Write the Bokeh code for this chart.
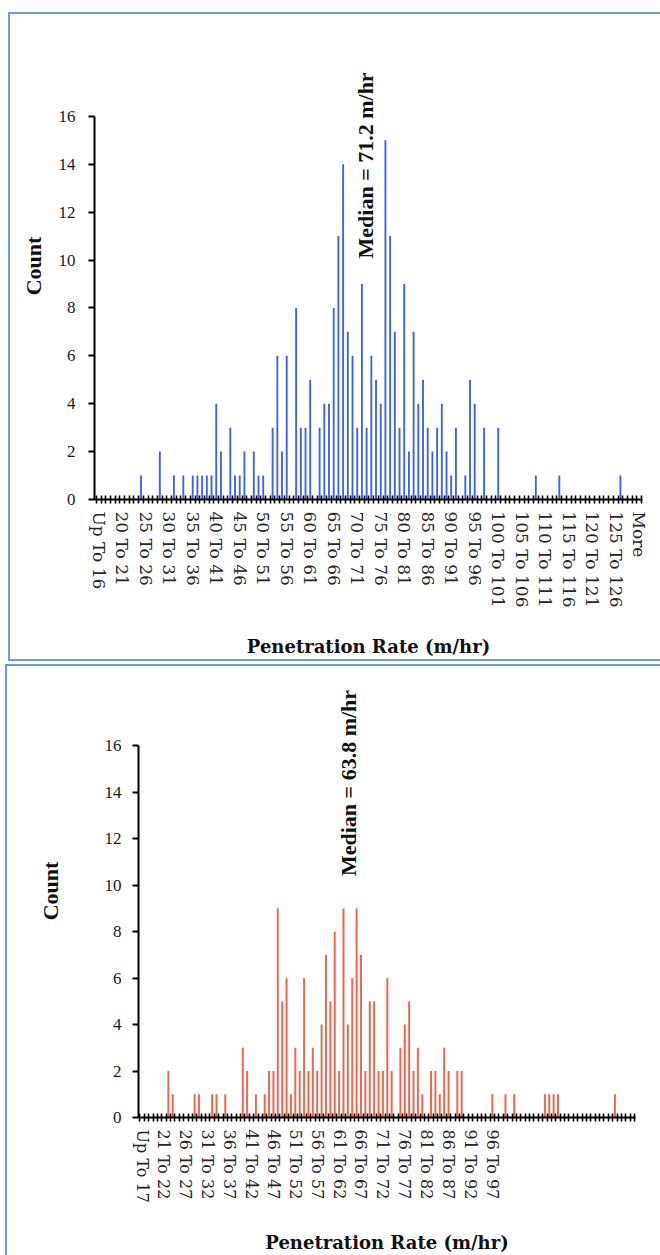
import math
from bokeh.plotting import figure
from bokeh.models import Range1d, FixedTicker, Label, ColumnDataSource
from bokeh.embed import file_html
from bokeh.resources import INLINE

# ---------------- data ----------------
top_categories = ["Up To 16"] + [f"{n} To {n + 1}" for n in range(16, 130)] + ["More"]
top_counts = [
    0, 0, 0, 0, 0, 0, 0, 0, 0, 1,
    0, 0, 0, 2, 0, 0, 1, 0, 1, 0,
    1, 1, 1, 1, 1, 4, 2, 0, 3, 1,
    1, 2, 0, 2, 1, 1, 0, 3, 6, 2,
    6, 0, 8, 3, 3, 5, 0, 3, 4, 4,
    8, 11, 14, 7, 6, 3, 9, 3, 6, 5,
    4, 15, 11, 7, 3, 9, 2, 7, 4, 5,
    3, 2, 3, 4, 2, 1, 3, 0, 1, 5,
    4, 0, 3, 0, 0, 3, 0, 0, 0, 0,
    0, 0, 0, 1, 0, 0, 0, 0, 1, 0,
    0, 0, 0, 0, 0, 0, 0, 0, 0, 0,
    0, 1, 0, 0, 0, 0,
]
top_median_text = "Median = 71.2 m/hr"
top_last_labelled = "More"

bottom_categories = ["Up To 17"] + [f"{n} To {n + 1}" for n in range(17, 129)]
bottom_counts = [
    0, 0, 0, 0, 0, 0, 2, 1, 0, 0,
    0, 0, 1, 1, 0, 0, 1, 1, 0, 1,
    0, 0, 0, 3, 2, 0, 1, 0, 1, 2,
    2, 9, 5, 6, 1, 3, 2, 6, 2, 3,
    2, 4, 7, 5, 8, 2, 9, 4, 6, 9,
    7, 2, 5, 5, 2, 2, 6, 2, 0, 3,
    4, 5, 2, 3, 1, 0, 2, 2, 1, 3,
    2, 0, 2, 2, 0, 0, 0, 0, 0, 0,
    1, 0, 0, 1, 0, 1, 0, 0, 0, 0,
    0, 0, 1, 1, 1, 1, 0, 0, 0, 0,
    0, 0, 0, 0, 0, 0, 0, 0, 1, 0,
    0, 0, 0,
]
bottom_median_text = "Median = 63.8 m/hr"
bottom_last_labelled = "96 To 97"

y_ticks = [0, 2, 4, 6, 8, 10, 12, 14, 16]
x_title = "Penetration Rate (m/hr)"
y_title = "Count"

BORDER = "#6d9cd8"
WHITE = "#ffffff"


def shadow(parts):
    return ", ".join(f"inset {dx}px {dy}px 0 0 {c}" for dx, dy, c in parts)


def make_panel(categories, counts, last_labelled, color, bar_width, median_text,
               median_pos, width, height, x_bounds, y_top, borders, box_shadow,
               xlabel_size, ylabel_standoff, ytitle_standoff, xtitle_standoff):
    p = figure(width=width, height=height, output_backend="svg", toolbar_location=None,
               x_range=Range1d(*x_bounds), y_range=Range1d(0, y_top),
               min_border_left=borders[0], min_border_right=borders[1],
               min_border_top=borders[2], min_border_bottom=borders[3])
    p.border_fill_color = None
    p.background_fill_color = None
    p.outline_line_color = None
    p.styles = {"box-shadow": box_shadow}

    idx = list(range(len(categories)))
    src = ColumnDataSource(dict(x=idx, top=counts, cat=categories))
    p.vbar(x="x", top="top", width=bar_width, source=src,
           fill_color=color, line_color=None)

    last = categories.index(last_labelled)
    majors = [i for i in idx if i % 5 == 0 and i <= last]
    minors = [i - 0.5 for i in range(len(categories) + 1)]
    p.xaxis.ticker = FixedTicker(ticks=majors, minor_ticks=minors)
    p.xaxis.major_label_overrides = {i: categories[i] for i in majors}
    p.xaxis.major_label_orientation = "vertical"
    p.xaxis.major_label_text_font = "DejaVu Serif"
    p.xaxis.major_label_text_font_size = xlabel_size
    p.xaxis.major_label_text_color = "#262626"
    p.xaxis.major_label_standoff = 8
    p.xaxis.major_tick_in = 0
    p.xaxis.major_tick_out = 0
    p.xaxis.minor_tick_in = 4
    p.xaxis.minor_tick_out = 4
    p.xaxis.minor_tick_line_width = 1.6
    p.xaxis.minor_tick_line_color = "black"
    p.xaxis.axis_line_width = 2
    p.xaxis.axis_line_color = "black"
    p.xaxis.axis_label = x_title
    p.xaxis.axis_label_text_font = "DejaVu Serif"
    p.xaxis.axis_label_text_font_style = "bold"
    p.xaxis.axis_label_text_font_size = "18px"
    p.xaxis.axis_label_text_color = "#111111"
    p.xaxis.axis_label_standoff = xtitle_standoff

    p.yaxis.ticker = FixedTicker(ticks=y_ticks)
    p.yaxis.bounds = (0, 16)
    p.yaxis.major_label_text_font = "Liberation Serif"
    p.yaxis.major_label_text_font_size = "17px"
    p.yaxis.major_label_text_color = "#1a1a1a"
    p.yaxis.major_label_standoff = ylabel_standoff
    p.yaxis.major_tick_in = 0
    p.yaxis.major_tick_out = 6
    p.yaxis.major_tick_line_width = 2
    p.yaxis.minor_tick_line_color = None
    p.yaxis.axis_line_width = 2
    p.yaxis.axis_line_color = "black"
    p.yaxis.axis_label = y_title
    p.yaxis.axis_label_text_font = "Liberation Serif"
    p.yaxis.axis_label_text_font_style = "bold"
    p.yaxis.axis_label_text_font_size = "22px"
    p.yaxis.axis_label_text_color = "#111111"
    p.yaxis.axis_label_standoff = ytitle_standoff

    p.xgrid.visible = False
    p.ygrid.visible = False

    p.add_layout(Label(x=median_pos[0], y=median_pos[1], text=median_text,
                       angle=math.pi / 2, text_align="center", text_baseline="middle",
                       text_font="Liberation Serif", text_font_style="bold",
                       text_font_size="22px", text_color="#111111"))
    return p


top_shadow = shadow([(8, 0, WHITE), (0, 12, WHITE), (0, -1, WHITE),
                     (0, 14, BORDER), (10, 0, BORDER), (0, -3, BORDER)])
bottom_shadow = shadow([(5, 0, WHITE), (0, 2, WHITE),
                        (0, 4, BORDER), (7, 0, BORDER)])

top = make_panel(top_categories, top_counts, top_last_labelled, "#3f63e6", 0.4,
                 top_median_text, (56.7, 13.95), 660, 662, (-0.9, 115.7), 19.5,
                 (94, 18, 32, 163), top_shadow,
                 "17px", 13, 10, 26)

bottom = make_panel(bottom_categories, bottom_counts, bottom_last_labelled, "#f0664c", 0.45,
                    bottom_median_text, (47.2, 14.4), 660, 593, (-0.82, 112.7), 19.5,
                    (138, 25, 2, 138), bottom_shadow,
                    "16px", 11, 39, 26)

open("out.html", "w").write(file_html([top, bottom], INLINE))
